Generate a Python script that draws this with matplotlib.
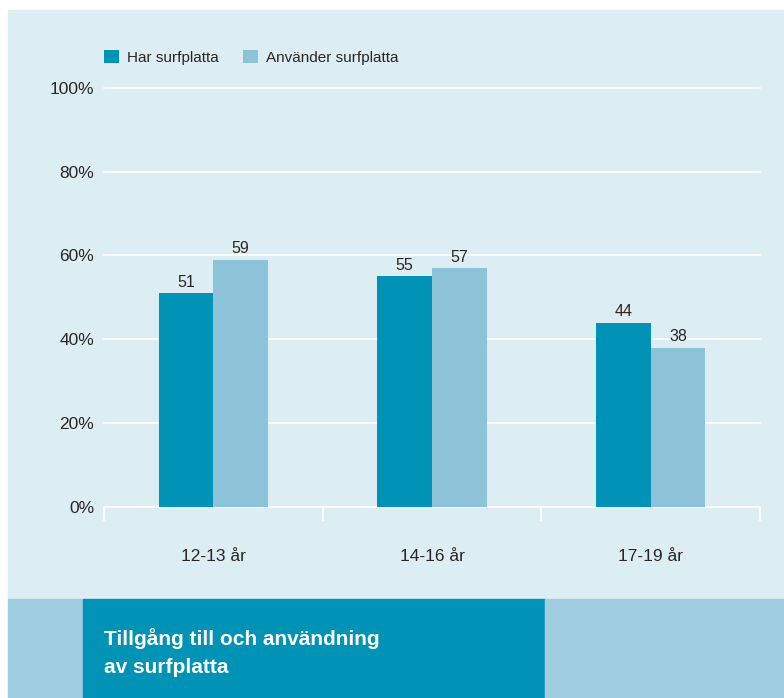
import matplotlib.pyplot as plt
from matplotlib.patches import Rectangle
import numpy as np

plt.rcParams['font.family'] = ['Liberation Sans', 'DejaVu Sans']

categories = ["12-13 år", "14-16 år", "17-19 år"]
har = [51, 55, 44]
anvander = [59, 57, 38]
series_names = ["Har surfplatta", "Använder surfplatta"]
title_lines = "Tillgång till och användning\nav surfplatta"
yticks = [0, 20, 40, 60, 80, 100]

W, H = 784, 698
bg = "#ddedf4"
dark = "#0093b6"
light = "#8cc3d8"
band_light = "#a1cde0"
txt = "#2b2622"

fig = plt.figure(figsize=(W / 100, H / 100), dpi=100, facecolor="white")

def px_rect(x0, y0, x1, y1, color):
    # pixel coords, y measured from top
    fig.patches.append(Rectangle((x0 / W, 1 - y1 / H), (x1 - x0) / W, (y1 - y0) / H,
                                 transform=fig.transFigure, color=color, zorder=-10))

px_rect(8, 10, W, 599, bg)
px_rect(8, 599, 83, H, band_light)
px_rect(83, 599, 545, H, dark)
px_rect(545, 599, W, H, band_light)

ax = fig.add_axes([104 / W, 1 - 507 / H, (760 - 104) / W, (507 - 87.7) / H])
ax.set_facecolor("none")
ax.set_zorder(5)

x = np.arange(len(categories))
w = 0.25
b1 = ax.bar(x - w / 2, har, w, color=dark, label=series_names[0], zorder=3)
b2 = ax.bar(x + w / 2, anvander, w, color=light, label=series_names[1], zorder=3)

for bars, vals in [(b1, har), (b2, anvander)]:
    for r, v in zip(bars, vals):
        ax.annotate(str(v), (r.get_x() + r.get_width() / 2, v), xytext=(0, 2.5),
                    textcoords="offset points", ha="center", va="bottom",
                    fontsize=11.5, color=txt)

for t in yticks:
    ax.axhline(t, color="white", lw=1.2, zorder=1, clip_on=False)

ax.set_xlim(-0.5, 2.5)
ax.set_ylim(0, 100)
ax.set_yticks(yticks)
ax.set_yticklabels([f"{t}%" for t in yticks], fontsize=12.5, color=txt)
ax.tick_params(axis="y", length=0, pad=7)

ax.set_xticks(x)
ax.set_xticklabels(categories, fontsize=12.5, color=txt)
ax.tick_params(axis="x", which="major", length=0, pad=30)
ax.set_xticks([-0.5, 0.5, 1.5, 2.5], minor=True)
ax.tick_params(axis="x", which="minor", length=10, width=1.2, color="white", direction="out")

for s in ax.spines.values():
    s.set_visible(False)

ax.legend(loc="lower left", bbox_to_anchor=(0, 1.055), ncol=2, frameon=False,
          fontsize=11, handlelength=1.0, handleheight=1.0, handletextpad=0.5,
          columnspacing=1.6, borderpad=0, borderaxespad=0, labelcolor=txt)

fig.text(104 / W, 1 - 653 / H, title_lines, color="white", fontsize=15,
         fontweight="bold", va="center", ha="left", linespacing=1.6)

fig.savefig("out.png", dpi=100, facecolor="white")
